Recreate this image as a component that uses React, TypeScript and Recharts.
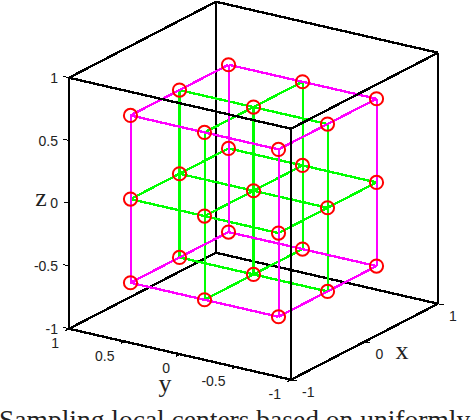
import { ScatterChart, Scatter, XAxis, YAxis } from "recharts";

const axisTicksX = [-1, 0, 1];
const axisTicksY = [1, 0.5, 0, -0.5, -1];
const axisTicksZ = [1, 0.5, 0, -0.5, -1];
const centersX = [-2 / 3, 0, 2 / 3];
const centersY = [2 / 3, 0, -2 / 3];
const centersZ = [2 / 3, 0, -2 / 3];

// orthographic camera of the MATLAB view
const project = (x: number, y: number, z: number) => ({
  sx: 253.5 + 73.5 * x - 111 * y,
  sy: 190.75 - 38 * x - 25.5 * y - 125.5 * z,
});

type P3 = [number, number, number];
const seg = (a: P3, b: P3) => [project(...a), project(...b)];

const backEdges: P3[][] = [
  [[-1, 1, -1], [1, 1, -1]],
  [[1, 1, -1], [1, -1, -1]],
  [[1, 1, -1], [1, 1, 1]],
  [[1, 1, 1], [-1, 1, 1]],
  [[1, 1, 1], [1, -1, 1]],
  [[-1, 1, -1], [-1, 1, 1]],
  [[1, -1, -1], [1, -1, 1]],
];
const frontEdges: P3[][] = [
  [[-1, 1, 1], [-1, -1, 1]],
  [[-1, -1, 1], [1, -1, 1]],
  [[-1, -1, -1], [-1, -1, 1]],
  [[-1, 1, -1], [-1, -1, -1]],
  [[-1, -1, -1], [1, -1, -1]],
];

const isOuter = (i: number, j: number) => (i === 0 || i === 2) && (j === 0 || j === 2);
const isEdge = (i: number) => i === 0 || i === 2;

const magenta: P3[][] = [];
const green: P3[][] = [];
const greenThick: P3[][] = [];

centersZ.forEach((z, k) => {
  centersX.forEach((x, i) => {
    const a: P3 = [x, centersY[0], z];
    const b: P3 = [x, centersY[2], z];
    (isEdge(i) && k !== 1 ? magenta : green).push([a, b]);
  });
  centersY.forEach((y, j) => {
    const a: P3 = [centersX[0], y, z];
    const b: P3 = [centersX[2], y, z];
    (isEdge(j) && k !== 1 ? magenta : green).push([a, b]);
  });
});
centersX.forEach((x, i) => {
  centersY.forEach((y, j) => {
    const a: P3 = [x, y, centersZ[0]];
    const b: P3 = [x, y, centersZ[2]];
    if (isOuter(i, j)) magenta.push([a, b]);
    else if (i === 1 && j < 2) greenThick.push([a, b]);
    else green.push([a, b]);
  });
});

const centers = centersZ.flatMap((z) =>
  centersX.flatMap((x) => centersY.map((y) => project(x, y, z)))
);

const tickLines: P3[][] = [
  ...axisTicksZ.map((z): P3[] => [[-1, 1, z], [-1, 1.05, z]]),
  ...axisTicksY.map((y): P3[] => [[-1, y, -1], [-1.05, y, -1]]),
  ...axisTicksX.map((x): P3[] => [[x, -1, -1], [x, -1.05, -1]]),
];

const zLabels = axisTicksZ.map((z) => ({ ...project(-1, 1, z), label: String(z), dx: -11, dy: 0, anchor: "end" }));
const yLabels = axisTicksY.map((y) => ({ ...project(-1, y, -1), label: String(y), dx: -10, dy: 14, anchor: "end" }));
const xLabels = axisTicksX.map((x) => ({ ...project(x, -1, -1), label: String(x), dx: 11, dy: 12, anchor: "start" }));
const axisNames = [
  { ...project(1, -1, -1), label: "x", dx: -36, dy: 47 },
  { ...project(-1, 0, -1), label: "y", dx: -15, dy: 29 },
  { ...project(-1, 1, 0), label: "z", dx: -28, dy: -6 },
];

const noDot = () => <g />;
const ring = (p: any) => (
  <circle cx={p.cx} cy={p.cy} r={6.6} fill="none" stroke="#ff0000" strokeWidth={2} />
);
const tickText = (p: any) => (
  <text
    x={p.cx + p.payload.dx}
    y={p.cy + p.payload.dy}
    textAnchor={p.payload.anchor}
    dominantBaseline="central"
    fontFamily="Liberation Sans"
    fontSize={14}
    fill="#222"
  >
    {p.payload.label}
  </text>
);
const nameText = (p: any) => (
  <text
    x={p.cx + p.payload.dx}
    y={p.cy + p.payload.dy}
    textAnchor="middle"
    dominantBaseline="central"
    fontFamily="Liberation Serif"
    fontSize={26}
    fill="#222"
  >
    {p.payload.label}
  </text>
);

// crisp verticals come out a pixel wider than the slanted lines
const isVertical = (e: P3[]) => e[0][0] === e[1][0] && e[0][1] === e[1][1];

const lines = (edges: P3[][], color: string, width: number, name: string) =>
  edges.map((e, i) => (
    <Scatter
      key={`${name}-${i}`}
      data={seg(e[0], e[1])}
      dataKey="sy"
      line={{
        stroke: color,
        strokeWidth: isVertical(e) ? Math.floor(width) : width,
        shapeRendering: "crispEdges",
      }}
      shape={noDot}
      isAnimationActive={false}
    />
  ));

export default function App() {
  return (
    <div style={{ position: "absolute", left: 0, top: 0, width: 472, height: 420, overflow: "hidden", background: "#fff" }}>
      <ScatterChart width={472} height={420} margin={{ top: 0, right: 0, bottom: 0, left: 0 }}>
        <XAxis type="number" dataKey="sx" domain={[0, 472]} hide />
        <YAxis type="number" dataKey="sy" domain={[0, 420]} reversed hide />
        {lines(backEdges, "#000", 2.4, "back")}
        {lines(tickLines, "#000", 1, "tick")}
        {lines(green, "#00ff00", 2.4, "green")}
        {lines(greenThick, "#00ff00", 3.4, "thick")}
        {lines(magenta, "#ff00ff", 2.4, "magenta")}
        {lines(frontEdges, "#000", 2.4, "front")}
        <Scatter data={centers} dataKey="sy" shape={ring} isAnimationActive={false} />
        <Scatter data={[...zLabels, ...yLabels, ...xLabels]} dataKey="sy" shape={tickText} isAnimationActive={false} />
        <Scatter data={axisNames} dataKey="sy" shape={nameText} isAnimationActive={false} />
      </ScatterChart>
      <div
        style={{
          position: "absolute",
          left: -1,
          top: 406,
          whiteSpace: "nowrap",
          fontFamily: "Liberation Serif",
          fontSize: 27.5,
          color: "#222",
          lineHeight: "28px",
        }}
      >
        Sampling local centers based on uniformly
      </div>
    </div>
  );
}
